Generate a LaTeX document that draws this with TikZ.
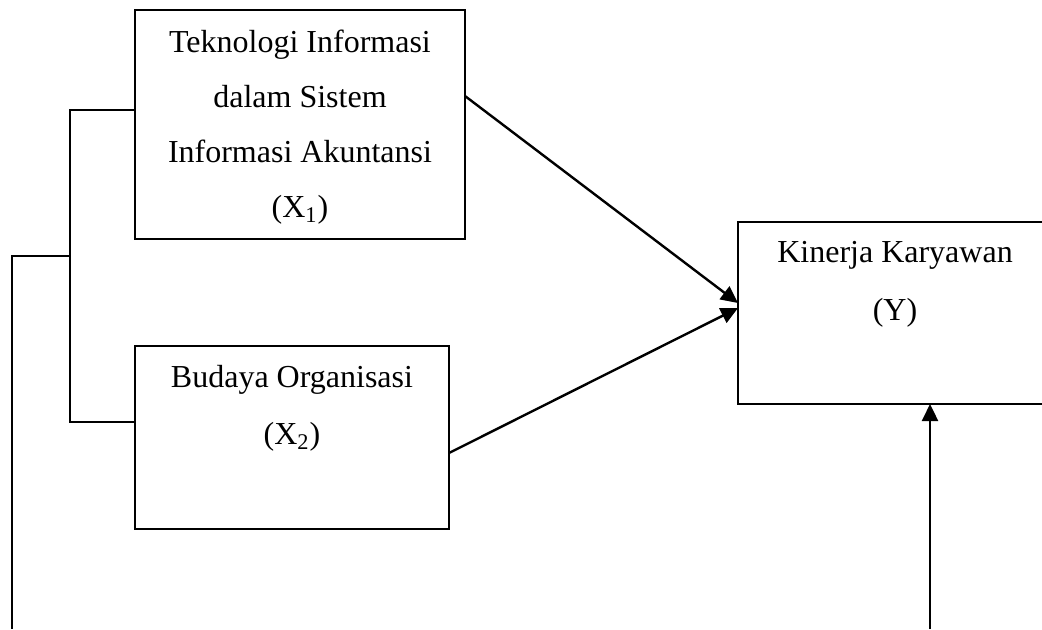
\documentclass[tikz,border=0pt]{standalone}
\usepackage{fontspec}
\setmainfont{Liberation Serif}
\usetikzlibrary{arrows.meta,calc}
\begin{document}
\begin{tikzpicture}[x=0.5pt,y=-0.5pt,
  box/.style={draw=black,line width=1pt,rectangle,inner sep=0pt,outer sep=0pt},
  txt/.style={anchor=base,inner sep=0pt,font=\fontsize{16}{19}\selectfont},
  conn/.style={draw=black,line width=1.2pt},
  arr/.style={conn,-{Triangle[length=8.5pt,width=8pt]}}]
\useasboundingbox (0,0) rectangle (1042,629);
% boxes
\node[box,minimum width=165pt,minimum height=114.5pt] (x1) at (300,124.5) {};
\node[box,minimum width=157pt,minimum height=91.5pt] (x2) at (292,437.5) {};
\node[box,minimum width=157pt,minimum height=91pt] (y) at (895,313) {};
% texts
\node[txt] (x1a) at (300,52) {Teknologi Informasi};
\node[txt] (x1b) at (300,107) {dalam Sistem};
\node[txt] (x1c) at (300,162) {Informasi Akuntansi};
\node[txt] (x1d) at (300,217) {(X\textsubscript{1})};
\node[txt] (x2a) at (292,387) {Budaya Organisasi};
\node[txt] (x2b) at (292,444) {(X\textsubscript{2})};
\node[txt] (ya) at (895,262) {Kinerja Karyawan};
\node[txt] (yb) at (895,320) {(Y)};
% arrows to Y
\draw[arr] ($(x1.north east)+(0,86)$) -- ($(y.north west)+(0,81)$);
\draw[arr] ($(x2.north east)+(0,107)$) -- ($(y.north west)+(0,86)$);
% bracket
\coordinate (bk) at (70,256);
\coordinate (bl) at (12,629);
\coordinate (br) at (930,629);
\draw[conn] ($(x1.north west)+(0,100)$) -| (bk) |- ($(x2.north west)+(0,76)$);
\draw[conn] (bk) -| (bl);
\draw[arr] (br) -- (br |- y.south);
\end{tikzpicture}
\end{document}
